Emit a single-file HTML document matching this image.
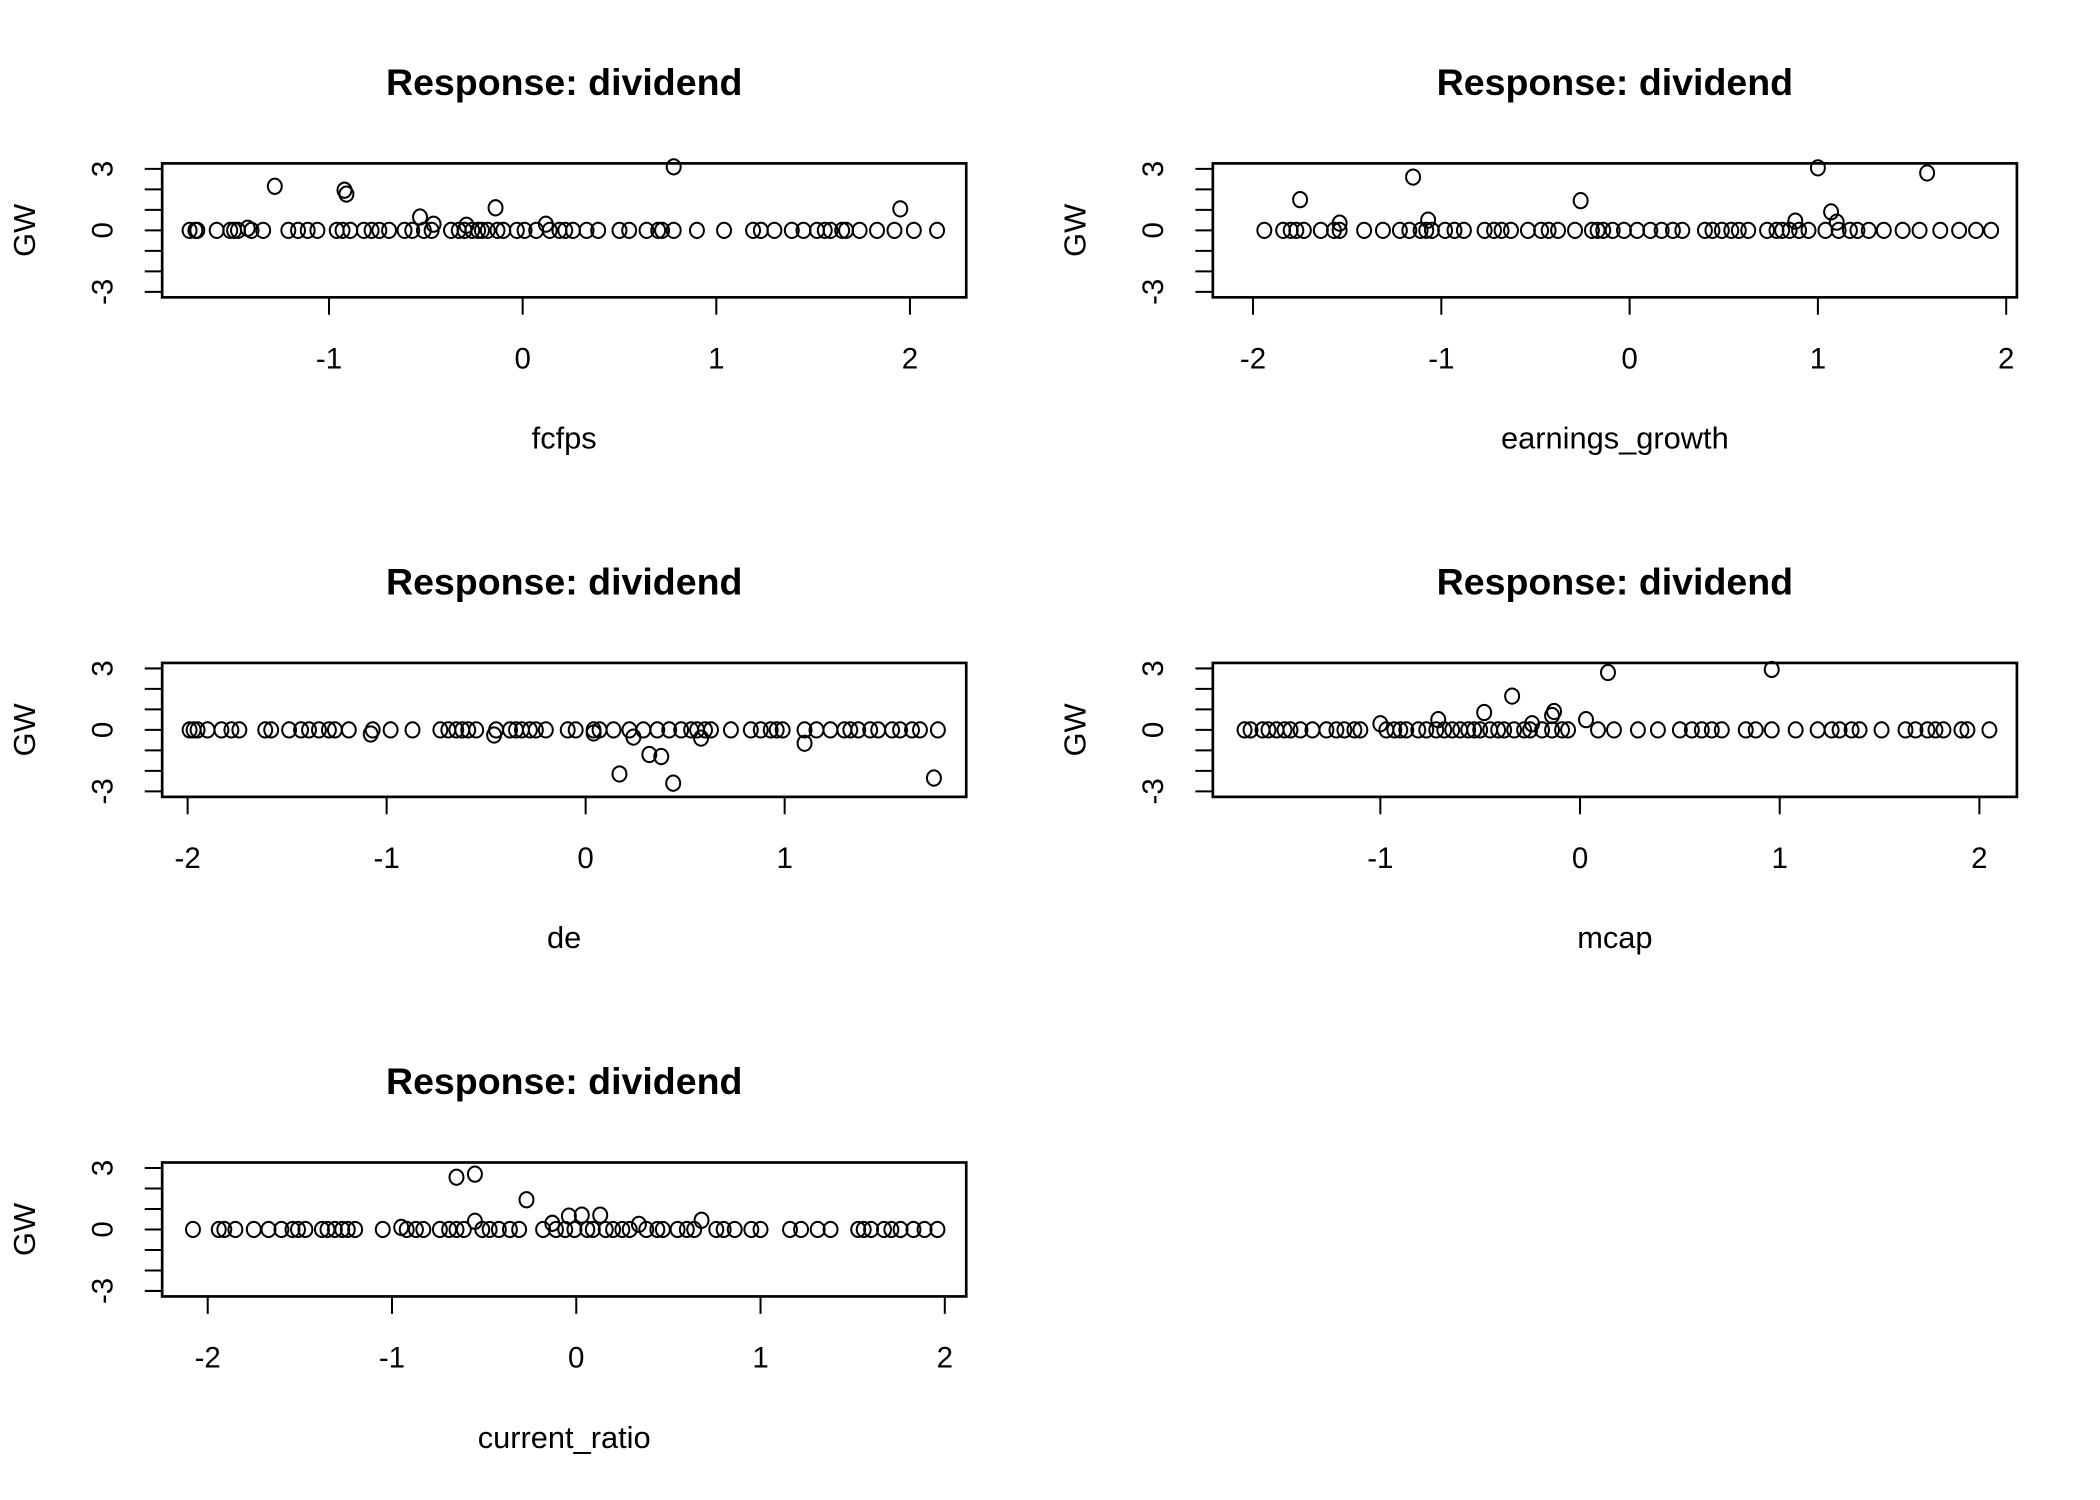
<!DOCTYPE html>
<html><head><meta charset="utf-8"><style>
html,body{margin:0;padding:0;background:#fff}
svg{display:block}
text{font-family:"Liberation Sans",Arial,sans-serif;fill:#000}
</style></head><body>
<svg id="chart" width="2100" height="1500" viewBox="0 0 1567 1120" preserveAspectRatio="none" xmlns="http://www.w3.org/2000/svg"></svg>
<script>
const yTicks=[3,2,1,0,-1,-2,-3];
const yLabels=[3,0,-3];
const titles=["Response: dividend","Response: dividend","Response: dividend","Response: dividend","Response: dividend"];
const xNames=["fcfps","earnings_growth","de","mcap","current_ratio"];
const xTicks1=[-1,0,1,2];
const xTicks2=[-2,-1,0,1,2];
const xTicks3=[-2,-1,0,1];
const xTicks4=[-1,0,1,2];
const xTicks5=[-2,-1,0,1,2];
const zeros1=[-1.72,-1.69,-1.68,-1.58,-1.51,-1.49,-1.47,-1.40,-1.34,-1.21,-1.16,-1.11,-1.06,-0.96,-0.93,-0.89,-0.82,-0.78,-0.74,-0.69,-0.61,-0.57,-0.51,-0.47,-0.37,-0.33,-0.30,-0.26,-0.23,-0.21,-0.18,-0.13,-0.10,-0.03,0.01,0.07,0.14,0.19,0.22,0.26,0.33,0.39,0.50,0.55,0.64,0.70,0.72,0.78,0.90,1.04,1.19,1.23,1.30,1.39,1.45,1.52,1.56,1.59,1.65,1.67,1.74,1.83,1.92,2.02,2.14];
const nzX1=[-1.28,-0.92,-0.91,0.78,-0.14,1.95,-0.53,-0.46,-0.29,-1.42,0.12];
const nzY1=[2.15,1.96,1.77,3.1,1.1,1.05,0.65,0.3,0.25,0.1,0.3];
const zeros2=[-1.94,-1.84,-1.80,-1.77,-1.73,-1.64,-1.57,-1.54,-1.41,-1.31,-1.22,-1.17,-1.11,-1.08,-1.05,-0.98,-0.93,-0.88,-0.77,-0.72,-0.68,-0.63,-0.54,-0.47,-0.43,-0.38,-0.29,-0.20,-0.17,-0.14,-0.09,-0.03,0.04,0.11,0.17,0.23,0.28,0.40,0.44,0.49,0.54,0.58,0.63,0.73,0.78,0.81,0.85,0.90,0.95,1.04,1.11,1.17,1.21,1.27,1.35,1.45,1.54,1.65,1.75,1.84,1.92];
const nzX2=[-1.75,-1.15,-0.26,1.0,1.58,1.07,-1.07,-1.54,0.88,1.10];
const nzY2=[1.5,2.6,1.45,3.05,2.8,0.9,0.5,0.35,0.45,0.4];
const zeros3=[-1.99,-1.97,-1.95,-1.90,-1.83,-1.78,-1.74,-1.61,-1.58,-1.49,-1.43,-1.39,-1.34,-1.29,-1.26,-1.19,-1.07,-0.98,-0.87,-0.73,-0.69,-0.65,-0.62,-0.59,-0.55,-0.45,-0.38,-0.35,-0.32,-0.28,-0.25,-0.20,-0.09,-0.05,0.04,0.07,0.14,0.22,0.29,0.36,0.42,0.48,0.53,0.56,0.60,0.63,0.73,0.83,0.88,0.93,0.96,0.99,1.10,1.16,1.23,1.30,1.33,1.37,1.43,1.47,1.54,1.58,1.64,1.68,1.77];
const nzX3=[0.17,0.32,0.38,0.44,1.75,1.10,0.24,-0.46,0.58,-1.08,0.04];
const nzY3=[-2.15,-1.2,-1.3,-2.6,-2.35,-0.65,-0.35,-0.25,-0.4,-0.2,-0.15];
const zeros4=[-1.68,-1.65,-1.59,-1.56,-1.52,-1.48,-1.45,-1.40,-1.34,-1.27,-1.22,-1.18,-1.13,-1.10,-0.97,-0.93,-0.90,-0.87,-0.81,-0.77,-0.72,-0.68,-0.64,-0.60,-0.56,-0.53,-0.50,-0.45,-0.41,-0.38,-0.33,-0.28,-0.25,-0.19,-0.14,-0.09,-0.06,0.09,0.17,0.29,0.39,0.50,0.56,0.61,0.66,0.71,0.83,0.88,0.96,1.08,1.19,1.26,1.30,1.36,1.40,1.51,1.63,1.68,1.74,1.78,1.82,1.91,1.94,2.05];
const nzX4=[0.14,0.96,-0.34,-0.48,-0.13,-0.14,-0.71,0.03,-1.0,-0.24];
const nzY4=[2.8,2.95,1.65,0.85,0.9,0.7,0.5,0.5,0.3,0.3];
const zeros5=[-2.08,-1.94,-1.91,-1.85,-1.75,-1.67,-1.60,-1.54,-1.51,-1.47,-1.38,-1.35,-1.31,-1.27,-1.24,-1.20,-1.05,-0.92,-0.87,-0.83,-0.74,-0.69,-0.65,-0.61,-0.51,-0.47,-0.42,-0.36,-0.31,-0.18,-0.11,-0.06,-0.01,0.06,0.09,0.16,0.20,0.25,0.29,0.38,0.44,0.47,0.55,0.60,0.64,0.76,0.80,0.86,0.95,1.00,1.16,1.22,1.31,1.38,1.53,1.56,1.60,1.67,1.71,1.76,1.83,1.89,1.96];
const nzX5=[-0.65,-0.55,-0.27,-0.04,0.03,0.13,0.68,-0.55,-0.13,0.34,-0.95];
const nzY5=[2.55,2.7,1.45,0.65,0.7,0.7,0.45,0.4,0.3,0.25,0.1];

const NS="http://www.w3.org/2000/svg";
const svg=document.getElementById('chart');
function mk(tag,attrs,parent){const e=document.createElementNS(NS,tag);for(const k in attrs)e.setAttribute(k,attrs[k]);(parent||svg).appendChild(e);return e;}

const panels=[
 {bx:121,by:122,x0:390,sx:144.5,ticks:xTicks1,zeros:zeros1,nx:nzX1,ny:nzY1},
 {bx:905,by:122,x0:1216,sx:140.5,ticks:xTicks2,zeros:zeros2,nx:nzX2,ny:nzY2},
 {bx:121,by:495,x0:437,sx:148.5,ticks:xTicks3,zeros:zeros3,nx:nzX3,ny:nzY3},
 {bx:905,by:495,x0:1179,sx:149,ticks:xTicks4,zeros:zeros4,nx:nzX4,ny:nzY4},
 {bx:121,by:868,x0:430,sx:137.5,ticks:xTicks5,zeros:zeros5,nx:nzX5,ny:nzY5}
];
panels.forEach((p,i)=>{
 const g=mk('g',{});
 
 
 const W=600,H=100,cy=p.by+50,sy=15.3;
 const X=v=>p.x0+v*p.sx, Y=v=>cy-v*sy;
 const t=mk('text',{x:p.bx+300,y:p.by-51,'text-anchor':'middle','font-size':28,'font-weight':'bold'},g);t.textContent=titles[i];
 
 const b=mk('rect',{x:p.bx,y:p.by,width:W,height:H,fill:'none',stroke:'#000','stroke-width':2},g);
 
 p.ticks.forEach(v=>{
  const l=mk('line',{x1:X(v),x2:X(v),y1:p.by+H,y2:p.by+H+13,stroke:'#000','stroke-width':1.5},g);
  
  const tl=mk('text',{x:X(v),y:p.by+H+53,'text-anchor':'middle','font-size':22},g);tl.textContent=v;
  
 });
 yTicks.forEach(v=>{
  const l=mk('line',{x1:p.bx-13,x2:p.bx,y1:Y(v),y2:Y(v),stroke:'#000','stroke-width':1.5},g);
  
 });
 yLabels.forEach(v=>{
  const tl=mk('text',{x:0,y:0,'text-anchor':'middle','font-size':22,transform:`translate(${p.bx-37},${Y(v)}) rotate(-90)`},g);tl.textContent=v;
  
 });
 const yl=mk('text',{x:0,y:0,'text-anchor':'middle','font-size':23,transform:`translate(${p.bx-95},${cy}) rotate(-90)`},g);yl.textContent='GW';
 
 const xl=mk('text',{x:p.bx+300,y:p.by+H+113,'text-anchor':'middle','font-size':23},g);xl.textContent=xNames[i];
 
 p.zeros.forEach(v=>{
  const c=mk('ellipse',{cx:X(v),cy:Y(0),rx:5.2,ry:5.7,fill:'none',stroke:'#000','stroke-width':1.5},g);
  
 });
 p.nx.forEach((v,j)=>{
  const c=mk('ellipse',{cx:X(v),cy:Y(p.ny[j]),rx:5.2,ry:5.7,fill:'none',stroke:'#000','stroke-width':1.5},g);
  
 });
});
</script>
</body></html>
